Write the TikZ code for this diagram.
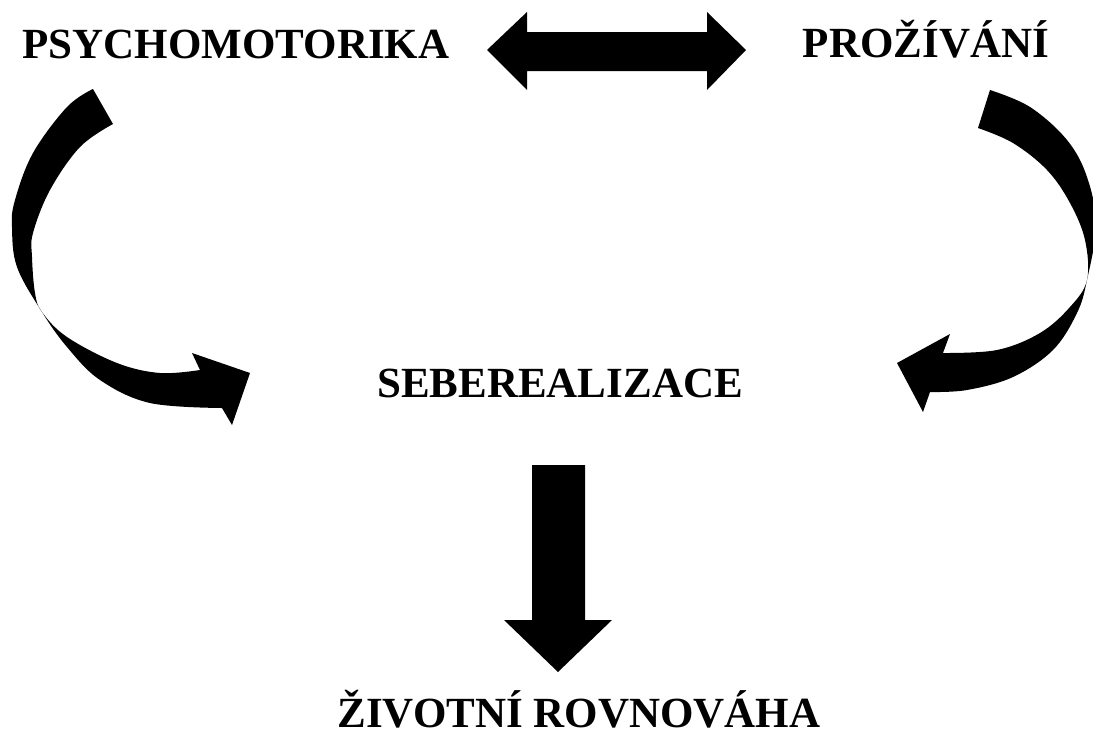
\documentclass[tikz,border=0pt]{standalone}
\usepackage{fontspec}
\setmainfont{Liberation Serif}
\tikzset{
  lbl/.style={font=\bfseries\fontsize{43}{43}\selectfont, anchor=base, inner sep=0pt},
  blockarrow/.style={fill=black, draw=none}
}
\begin{document}
\begin{tikzpicture}[x=1pt,y=-1pt]
\useasboundingbox (0,0) rectangle (1093,737);
% labels
\node[lbl] (psy) at (236,58) {PSYCHOMOTORIKA};
\node[lbl] (pro) at (926,57) {PROŽÍVÁNÍ};
\node[lbl] (seb) at (560,397) {SEBEREALIZACE};
\node[lbl] (ziv) at (579,727) {ŽIVOTNÍ ROVNOVÁHA};
% double arrow between the top labels
\fill[blockarrow] (487,50) -- (527,12) -- (527,32) -- (707,32) -- (707,12) -- (746,50)
  -- (707,90) -- (707,71) -- (527,71) -- (527,90) -- cycle;
% down arrow
\fill[blockarrow] (532,465) -- (585,465) -- (585,620) -- (612,620) -- (558,672)
  -- (504,620) -- (532,620) -- cycle;
% left curved arrow
\fill[blockarrow] plot[smooth,tension=0.6] coordinates {(93,89) (67,107) (33,153) (15,200) (12,227) (17,267) (42,312) (67,347) (100,380) (150,403) (222,408)}
  -- (232,425) -- (250,373) -- (192,353) -- (200,370)
  -- plot[smooth,tension=0.6] coordinates {(200,370) (160,373) (117,363) (67,337) (42,312) (35,293) (32,257) (33,233) (50,190) (80,147) (113,124)}
  -- cycle;
% right curved arrow
\begin{scope}
\clip (0,0) rectangle (1093,737);
\fill[blockarrow] plot[smooth,tension=0.6] coordinates {(990,90) (1030,107) (1067,140) (1087,177) (1096,225) (1087,280) (1077,313) (1053,350) (1013,377) (967,390) (930,392)}
  -- (923,412) -- (897,363) -- (950,334) -- (943,353)
  -- plot[smooth,tension=0.6] coordinates {(943,353) (997,350) (1040,333) (1070,307) (1087,280) (1085,240) (1070,203) (1047,170) (1013,143) (978,128)}
  -- cycle;
\end{scope}
\end{tikzpicture}
\end{document}
